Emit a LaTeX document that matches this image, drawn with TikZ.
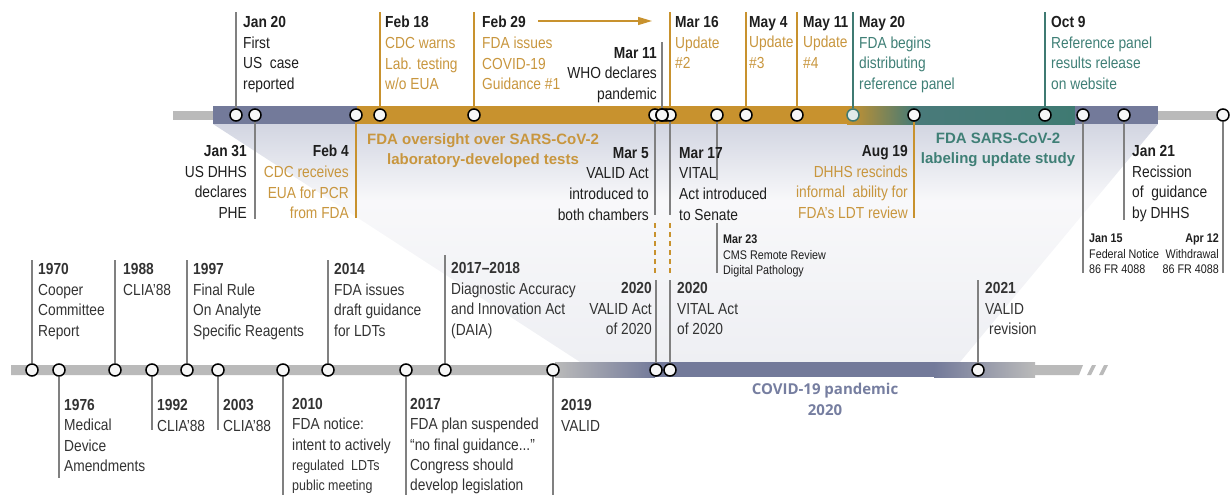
\documentclass[tikz,border=0pt]{standalone}
\usepackage{fontspec}
\setmainfont{Liberation Sans}[FakeStretch=0.86]
\newfontfamily\bandfont{Liberation Sans}
\newfontfamily\covidfont{Open Sans}
\usetikzlibrary{arrows.meta}
\definecolor{cOr}{HTML}{C8922E}
\definecolor{cOrT}{HTML}{C8963E}
\definecolor{cTeal}{HTML}{3F7A72}
\definecolor{cTealT}{HTML}{3F7F76}
\definecolor{cBG}{HTML}{737A9A}
\definecolor{cGray}{HTML}{BABABA}
\definecolor{cLine}{HTML}{808080}
\definecolor{cTxt}{HTML}{1E1E1E}
\definecolor{cTxtB}{HTML}{333333}
\definecolor{cCov}{HTML}{767EA0}
\definecolor{cFunA}{HTML}{D2D5E1}
\definecolor{cFunB}{HTML}{F8F8FA}
\definecolor{cFunC}{HTML}{EEEFF3}
\pgfdeclareverticalshading{funnelshade}{100bp}{color(0bp)=(cFunC); color(25bp)=(cFunC); color(59bp)=(cFunB); color(75bp)=(cFunA); color(100bp)=(cFunA)}
\newcommand\oo[1]{\textcolor{cOrT}{#1}}
\newcommand\tl[1]{\textcolor{cTealT}{#1}}
\begin{document}
\begin{tikzpicture}[x=1pt,y=-1pt,
  ev/.style={circle, draw=black, fill=white!94!gray, line width=1.5pt, minimum size=12pt, inner sep=0pt},
  evteal/.style={ev, draw=cTeal, fill=white!85!cTeal},
  tick/.style={draw=cLine, line width=1.2pt},
  otick/.style={draw=cOr, line width=1.2pt},
  ttick/.style={draw=cTeal, line width=1.2pt},
  txt/.style={inner sep=0pt, font=\fontsize{16}{20.7}\selectfont, text=cTxt},
  lt/.style={txt, anchor=north west, align=left},
  rt/.style={txt, anchor=north east, align=right},
  lb/.style={lt, text=cTxtB},
  rb/.style={rt, text=cTxtB},
  smallt/.style={inner sep=0pt, font=\fontsize{12.5}{15.5}\selectfont, text=cTxt},
  band/.style={inner sep=0pt, anchor=north, align=center, font=\bandfont\bfseries\fontsize{15}{20}\selectfont}
]
\useasboundingbox (0,0) rectangle (1231,495);

% funnel shading
\shade[shading=funnelshade] (213,124) -- (1158,124) -- (960,362) -- (580,362) -- cycle;

% ---------- top bar ----------
\fill[cGray] (173,111) rectangle (213,120);
\fill[cBG] (213,106) rectangle (357,124);
\fill[cOr] (357,106) rectangle (848,124);
\fill[left color=cOr, right color=cTeal!90!cBG] (847,106) rectangle (915,124);
\fill[left color=cTeal!80!cBG, right color=cTeal] (914,106) rectangle (1075,124);
\fill[cBG] (1075,106) rectangle (1158,124);
\fill[cGray] (1158,111) rectangle (1223,120);

% ---------- bottom bar ----------
\fill[cGray] (11,365) -- (1083,365) -- (1079,375) -- (11,375) -- cycle;
\fill[left color=cGray, right color=cBG] (555,362) rectangle (655,377);
\fill[cBG] (654,362) rectangle (935,377);
\fill[left color=cBG, right color=cGray] (934,362) rectangle (1035,377);
\fill[cGray] (1087,375) -- (1092,365) -- (1096,365) -- (1091,375) -- cycle;
\fill[cGray] (1099,375) -- (1104,365) -- (1108,365) -- (1103,375) -- cycle;

% ---------- top events ----------
\node[ev] (tJan20) at (236,115) {};
\node[ev] (tJan31) at (255,115) {};
\node[ev] (tFeb4) at (356,115) {};
\node[ev] (tFeb18) at (380,115) {};
\node[ev] (tFeb29) at (474,115) {};
\node[ev] (tMar5) at (655,115) {};
\node[ev] (tMarA) at (666,115) {};
\node[ev] (tMar16) at (670,115) {};
\node[ev] (tMar11) at (662,115) {};
\node[ev] (tMar17) at (717,115) {};
\node[ev] (tMay4) at (746,115) {};
\node[ev] (tMay11) at (797,115) {};
\node[evteal] (tMay20) at (853,115) {};
\node[ev] (tAug19) at (914,115) {};
\node[ev] (tOct9) at (1045,115) {};
\node[ev] (tJan15) at (1083,115) {};
\node[ev] (tJan21) at (1124,115) {};
\node[ev] (tApr12) at (1223,115) {};

% ---------- bottom events ----------
\node[ev] (b1970) at (32,370) {};
\node[ev] (b1976) at (59,370) {};
\node[ev] (b1988) at (115,370) {};
\node[ev] (b1992) at (152,370) {};
\node[ev] (b1997) at (187,370) {};
\node[ev] (b2003) at (218,370) {};
\node[ev] (b2010) at (283,370) {};
\node[ev] (b2014) at (328,370) {};
\node[ev] (b2017) at (406,370) {};
\node[ev] (b2018) at (445,370) {};
\node[ev] (b2019) at (553,370) {};
\node[ev] (b2020a) at (656,370) {};
\node[ev] (b2020b) at (670,370) {};
\node[ev] (b2021) at (978,370) {};

% ---------- ticks top (upward) ----------
\coordinate (cJan20) at (236,12);
\coordinate (cFeb18) at (380,12);
\coordinate (cFeb29) at (474,12);
\coordinate (cMar16) at (670,12);
\coordinate (cMay4) at (746,12);
\coordinate (cMay11) at (797,12);
\coordinate (cMay20) at (853,12);
\coordinate (cOct9) at (1045,12);
\coordinate (cMar11) at (662,42);
\draw[tick] (tJan20.north) -- (cJan20);
\draw[otick] (tFeb18.north) -- (cFeb18);
\draw[otick] (tFeb29.north) -- (cFeb29);
\draw[otick] (tMar16.north) -- (cMar16);
\draw[otick] (tMay4.north) -- (cMay4);
\draw[otick] (tMay11.north) -- (cMay11);
\draw[ttick] (tMay20.north) -- (cMay20);
\draw[ttick] (tOct9.north) -- (cOct9);
\draw[tick] (tMar11.north) -- (cMar11);

% ---------- ticks top (downward) ----------
\coordinate (dJan31) at (255,219);
\coordinate (dFeb4) at (356,218);
\coordinate (dMar5a) at (655,215);
\coordinate (dMar5b) at (655,223);
\coordinate (dMar5c) at (655,273);
\coordinate (dMar5d) at (656,280);
\coordinate (dMar16a) at (670,215);
\coordinate (dMar16b) at (670,223);
\coordinate (dMar16c) at (670,273);
\coordinate (dMar16d) at (670,280);
\coordinate (dMar17a) at (717,180);
\coordinate (dMar17b) at (717,223);
\coordinate (dMar17c) at (717,273);
\coordinate (dAug19) at (914,218);
\coordinate (dJan15) at (1083,273);
\coordinate (dJan21) at (1124,220);
\coordinate (dApr12) at (1223,273);
\draw[tick] (tJan31.south) -- (dJan31);
\draw[otick] (tFeb4.south) -- (dFeb4);
\draw[tick] (tMar5.south) -- (dMar5a);
\draw[otick, dash pattern=on 5pt off 4pt] (dMar5b) -- (dMar5c);
\draw[tick] (dMar5d) -- (b2020a.north);
\draw[tick] (tMar16.south) -- (dMar16a);
\draw[otick, dash pattern=on 5pt off 4pt] (dMar16b) -- (dMar16c);
\draw[tick] (dMar16d) -- (b2020b.north);
\draw[tick] (tMar17.south) -- (dMar17a);
\draw[tick] (dMar17b) -- (dMar17c);
\draw[otick] (tAug19.south) -- (dAug19);
\draw[tick] (tJan15.south) -- (dJan15);
\draw[tick] (tJan21.south) -- (dJan21);
\draw[tick] (tApr12.south) -- (dApr12);

% ---------- ticks bottom ----------
\coordinate (u1970) at (32,260);
\coordinate (u1988) at (115,260);
\coordinate (u1997) at (187,260);
\coordinate (u2014) at (328,260);
\coordinate (u2018) at (445,255);
\coordinate (u2021) at (978,280);
\coordinate (w1976) at (59,478);
\coordinate (w1992) at (152,430);
\coordinate (w2003) at (218,430);
\coordinate (w2010) at (283,495);
\coordinate (w2017) at (406,495);
\coordinate (w2019) at (553,495);
\draw[tick] (b1970.north) -- (u1970);
\draw[tick] (b1988.north) -- (u1988);
\draw[tick] (b1997.north) -- (u1997);
\draw[tick] (b2014.north) -- (u2014);
\draw[tick] (b2018.north) -- (u2018);
\draw[tick] (b2021.north) -- (u2021);
\draw[tick] (b1976.south) -- (w1976);
\draw[tick] (b1992.south) -- (w1992);
\draw[tick] (b2003.south) -- (w2003);
\draw[tick] (b2010.south) -- (w2010);
\draw[tick] (b2017.south) -- (w2017);
\draw[tick] (b2019.south) -- (w2019);

% redraw front circle of the cluster
\node[ev] (tMar11f) at (662,115) {};

% arrow Feb 29
\coordinate (aS) at (538,21);
\coordinate (aE) at (652,21);
\draw[cOr, line width=1.3pt, -{Triangle[length=14pt,width=8pt]}] (aS) -- (aE);

% ---------- top texts ----------
\node[lt] (xJan20) at (243,16) {\textbf{Jan 20}\\First\\US\ \ case\\reported};
\node[lt] (xFeb18) at (385,16) {\textbf{Feb 18}\\\oo{CDC warns}\\\oo{Lab. testing}\\\oo{w/o EUA}};
\node[lt] (xFeb29) at (482,16) {\textbf{Feb 29}\\\oo{FDA issues}\\\oo{COVID-19}\\\oo{Guidance \#1}};
\node[rt] (xMar11) at (657,47) {\textbf{Mar 11}\\WHO declares\\pandemic};
\node[lt] (xMar16) at (675,16) {\textbf{Mar 16}\\\oo{Update}\\\oo{\#2}};
\node[lt] (xMay4) at (749,16) {\textbf{May 4}\\\oo{Update}\\\oo{\#3}};
\node[lt] (xMay11) at (803,16) {\textbf{May 11}\\\oo{Update}\\\oo{\#4}};
\node[lt] (xMay20) at (859,16) {\textbf{May 20}\\\tl{FDA begins}\\\tl{distributing}\\\tl{reference panel}};
\node[lt] (xOct9) at (1051,16) {\textbf{Oct 9}\\\tl{Reference panel}\\\tl{results release}\\\tl{on website}};

\node[rt] (xJan31) at (247,145) {\textbf{Jan 31}\\US DHHS\\declares\\PHE};
\node[rt] (xFeb4) at (349,145) {\textbf{Feb 4}\\\oo{CDC receives}\\\oo{EUA for PCR}\\\oo{from FDA}};
\node[rt] (xMar5) at (649,147) {\textbf{Mar 5}\\VALID Act\\introduced to\\both chambers};
\node[lt] (xMar17) at (679,147) {\textbf{Mar 17}\\VITAL\\Act introduced\\to Senate};
\node[rt] (xAug19) at (908,145) {\textbf{Aug 19}\\\oo{DHHS rescinds}\\\oo{informal\ \ ability for}\\\oo{FDA’s LDT review}};
\node[lt] (xJan21) at (1132,145) {\textbf{Jan 21}\\Recission\\of\ \ guidance\\by DHHS};

\node[smallt, anchor=north west, align=left] (xMar23) at (723,235) {\textbf{Mar 23}\\CMS Remote Review\\Digital Pathology};
\node[smallt, anchor=north west, align=left] (xJan15) at (1089,234) {\textbf{Jan 15}\\Federal Notice\\86 FR 4088};
\node[smallt, anchor=north east, align=right] (xApr12) at (1219,234) {\textbf{Apr 12}\\Withdrawal\\86 FR 4088};

% band labels
\node[band, text=cOrT] (bandFDA) at (483,133) {FDA oversight over SARS-CoV-2\\laboratory-developed tests};
\node[band, text=cTealT] (bandLab) at (998,133) {FDA SARS-CoV-2\\labeling update study};
\node[inner sep=0pt, anchor=north, align=center, text=cCov, font=\covidfont\bfseries\fontsize{15}{21}\selectfont] (bandCov) at (825,383) {COVID-19 pandemic\\2020};

% ---------- bottom texts ----------
\node[lb] (y1970) at (38,263) {\textbf{1970}\\Cooper\\Committee\\Report};
\node[lb] (y1988) at (123,263) {\textbf{1988}\\CLIA’88};
\node[lb] (y1997) at (193,263) {\textbf{1997}\\Final Rule\\On Analyte\\Specific Reagents};
\node[lb] (y2014) at (334,263) {\textbf{2014}\\FDA issues\\draft guidance\\for LDTs};
\node[lb] (y2018) at (451,262) {\textbf{2017–2018}\\Diagnostic Accuracy\\and Innovation Act\\(DAIA)};
\node[rb] (y2020a) at (652,282) {\textbf{2020}\\VALID Act\\of 2020};
\node[lb] (y2020b) at (677,282) {\textbf{2020}\\VITAL Act\\of 2020};
\node[lb] (y2021) at (985,282) {\textbf{2021}\\VALID\\\hspace*{4pt}revision};

\node[lb, font=\fontsize{16}{20.5}\selectfont] (y1976) at (64,399) {\textbf{1976}\\Medical\\Device\\Amendments};
\node[lb] (y1992) at (157,399) {\textbf{1992}\\CLIA’88};
\node[lb] (y2003) at (223,399) {\textbf{2003}\\CLIA’88};
\node[lb, font=\fontsize{16}{20.4}\selectfont] (y2010) at (292,398) {\textbf{2010}\\FDA notice:\\intent to actively\\{\fontsize{14.5}{20.4}\selectfont regulated\ \ LDTs}\\{\fontsize{14.5}{20.4}\selectfont public meeting}};
\node[lb, font=\fontsize{16}{20.4}\selectfont] (y2017) at (410,398) {\textbf{2017}\\FDA plan suspended\\“no final guidance...”\\Congress should\\develop legislation};
\node[lb] (y2019) at (561,399) {\textbf{2019}\\VALID};
\end{tikzpicture}
\end{document}
